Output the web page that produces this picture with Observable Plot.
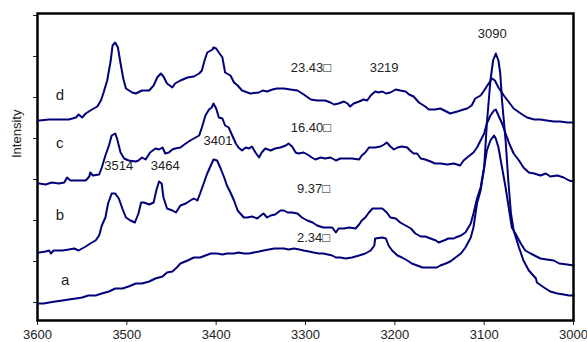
<!DOCTYPE html>
<html>
<head>
<meta charset="utf-8">
<script src="https://cdn.jsdelivr.net/npm/d3@7"></script>
<script src="https://cdn.jsdelivr.net/npm/@observablehq/plot@0.6"></script>
<style>
html, body { margin: 0; padding: 0; background: #fff; }
svg { display: block; }
</style>
</head>
<body>
<div id="chart"></div>
<script>
// Wavenumber (cm-1) and intensity (arbitrary units) for each spectrum
const wnA = [3598,3593,3587,3580,3572,3565,3557,3550,3543,3535,3528,3520,3513,3505,3498,3490,3483,3475,3468,3460,3455,3449,3444,
  3440,3432,3425,3418,3412,3406,3399,3393,3388,3380,3375,3369,3363,3358,3352,3347,3341,3335,3330,3324,3319,3313,3307,3302,3296,3291,3285,3280,
  3270,3266,3261,3255,3248,3240,3233,3227,3223,3222,3214,3210,3207,3203,3197,3192,3186,3181,3175,3169,3164,3158,3153,3149,3143,3138,
  3132,3126,3121,3115,3112,3108,3104,3100,3097,3093,3090,3087,3084,3082,3080,3076,3073,3070,3067,3061,3056,3050,3042,
  3041,3033,3026,3018,3011,3005,3000];
const intA = [-1,-1,0,1,2,3,4,5,7,7,9,11,14,14,16,19,19,21,24,26,30,31,35,
  39,42,45,45,47,49,49,48,49,49,50,49,49,50,51,52,53,54,54,54,53,54,53,52,51,50,49,49,
  47,45,45,44,45,47,49,52,57,64,65,64,57,52,47,45,42,39,37,35,35,35,35,37,39,41,
  45,49,55,65,75,99,112,135,179,222,242,249,242,229,202,162,122,89,72,55,42,32,24,
  20,15,11,9,8,7,7];

const wnB = [3598,3591,3587,3585,3582,3572,3565,3559,3554,3550,3546,3541,3535,3531,3528,3524,3521,3517,3513,3509,3505,3501,3496,3491,3487,3484,3481,3475,3470,3467,3464,3461,3459,3455,3449,3445,
  3440,3434,3429,3425,3421,3418,3414,3410,3406,3403,3399,3395,3391,3388,3384,3380,3376,3373,3369,3365,3360,3354,3350,3347,3343,3339,3334,3328,3324,3320,3315,3309,3304,3298,3292,3287,3280,
  3278,3270,3266,3263,3257,3251,3244,3240,3237,3233,3229,3225,3220,3214,3209,3205,3199,3194,3188,3182,3177,3171,3166,3160,3154,3151,3145,3140,3134,
  3132,3126,3121,3115,3112,3108,3104,3100,3097,3093,3089,3087,3084,3080,3076,3072,3069,3065,3059,3054,3048,
  3037,3030,3022,3016,3007,3000];
const intB = [50,51,52,49,52,52,53,54,52,54,56,59,62,67,77,85,99,109,109,104,94,85,82,80,89,100,100,98,100,112,121,119,105,94,92,90,
  97,99,102,104,102,109,119,129,137,143,142,134,125,117,110,102,92,89,85,85,86,84,87,89,85,87,88,92,92,90,90,89,85,82,80,77,75,
  75,75,70,74,74,75,74,78,82,85,90,94,94,94,90,85,84,80,77,74,69,66,66,64,62,60,62,64,64,
  65,67,70,79,89,104,115,135,152,162,167,164,155,135,115,92,75,69,59,52,49,
  44,43,42,39,38,37];

const wnC = [3598,3591,3584,3576,3570,3567,3563,3554,3546,3542,3541,3538,3531,3528,3524,3520,3517,3513,3511,3507,3503,3498,3490,3487,3483,3479,3474,3468,3464,3460,3457,3453,3449,3446,
  3440,3434,3429,3423,3419,3416,3412,3408,3405,3403,3400,3397,3393,3390,3386,3382,3378,3375,3371,3367,3363,3360,3356,3352,3349,3345,3339,3334,3328,3322,3319,3315,3311,3308,3302,3296,3293,3289,3283,
  3278,3272,3266,3261,3255,3248,3240,3237,3233,3229,3222,3216,3212,3209,3205,3201,3197,3192,3186,3183,3179,3175,3171,3166,3160,3155,
  3149,3141,3134,3127,3123,3119,3112,3108,3104,3100,3097,3093,3089,3087,3084,3080,3076,3072,3067,3061,3056,3050,3044,3037,3031,3026,3018,3011,3005,3000];
const intC = [119,118,120,119,120,125,122,122,122,126,130,127,128,135,147,157,167,169,164,150,144,142,141,142,145,143,150,154,153,155,149,150,153,154,
  155,159,162,165,167,175,187,193,195,199,194,185,184,177,175,167,159,155,152,155,154,156,150,145,150,154,152,154,155,157,159,156,150,149,150,147,145,143,145,
  144,145,142,144,144,144,143,147,150,155,155,156,158,160,156,153,155,156,155,152,149,149,144,143,141,139,
  139,138,139,137,142,145,150,155,162,169,179,187,192,193,187,179,169,159,149,142,135,130,129,127,129,126,127,125,122,121];

const wnD = [3598,3587,3576,3565,3557,3554,3550,3546,3539,3533,3529,3526,3522,3518,3516,3513,3510,3507,3504,3501,3494,3490,3483,3475,3470,3466,3462,3459,3455,3449,3446,
  3440,3432,3425,3419,3416,3413,3410,3404,3403,3400,3397,3393,3390,3384,3380,3376,3371,3362,3352,3348,3343,3337,3332,3324,3317,3309,3302,3294,3287,3281,
  3278,3272,3268,3263,3257,3253,3250,3246,3240,3235,3231,3227,3222,3218,3214,3210,3205,3199,3194,3188,3184,3179,3173,3166,3162,3155,
  3149,3138,3130,3123,3119,3114,3110,3104,3100,3095,3091,3088,3084,3078,3072,3067,3059,3052,3044,3037,3030,3022,3015,3007,3000];
const intD = [182,183,183,183,185,188,185,189,193,196,202,210,222,242,257,260,255,239,224,214,210,209,212,212,217,225,229,226,219,215,219,
  222,225,226,229,232,242,250,253,255,254,250,245,230,227,220,217,212,209,210,212,211,213,214,214,213,212,208,203,202,202,
  202,200,198,199,201,199,196,199,201,203,202,207,211,210,211,209,210,213,212,211,208,206,200,196,193,193,
  194,189,191,193,194,197,204,207,212,219,224,222,215,207,200,194,189,185,183,183,182,181,181,180,180];

const seriesNames = ["a", "b", "c", "d"];
const wnAll = [wnA, wnB, wnC, wnD];
const intAll = [intA, intB, intC, intD];

const xTicks = [3600, 3500, 3400, 3300, 3200, 3100, 3000];
const yTicks = [0, 41, 82, 123, 164, 205, 246, 287];

// Curve letters
const curveLabels = ["d", "c", "b", "a"];
const curveLabelX = [3575, 3575, 3575, 3569];
const curveLabelY = [207, 159, 87, 22];

// Peak / pressure annotations
const noteTexts = ["3514", "3464", "3401", "23.43\u25A1", "16.40\u25A1", "9.37\u25A1", "2.34\u25A1", "3219", "3090"];
const noteX = [3509, 3457, 3398, 3294, 3294, 3291, 3291, 3212, 3091];
const noteY = [137, 137, 162, 235, 175, 114, 65, 235, 269];

const spectra = [];
seriesNames.forEach((s, i) => {
  wnAll[i].forEach((w, j) => spectra.push({series: s, wn: w, intensity: intAll[i][j]}));
});
const curveLabelData = curveLabels.map((t, i) => ({t, x: curveLabelX[i], y: curveLabelY[i]}));
const noteData = noteTexts.map((t, i) => ({t, x: noteX[i], y: noteY[i]}));

const font = "'Liberation Sans', Arial, Helvetica, sans-serif";

const chart = Plot.plot({
  width: 587,
  height: 342,
  marginLeft: 37,
  marginRight: 14,
  marginTop: 13,
  marginBottom: 22,
  style: {fontFamily: font, fontSize: "13px", color: "#222", background: "#fff"},
  x: {domain: [3600, 3000]},
  y: {domain: [-18, 289]},
  marks: [
    Plot.axisY(yTicks, {tickSize: 4, tickFormat: () => "", label: null, stroke: "#222"}),
    Plot.axisX(xTicks, {tickSize: 5, tickPadding: 4, label: null, fontSize: 13, tickFormat: d => String(d), stroke: "#222"}),
    Plot.line(spectra, {x: "wn", y: "intensity", z: "series", stroke: "#00007a", strokeWidth: 2, strokeLinejoin: "round"}),
    Plot.text(curveLabelData, {x: "x", y: "y", text: "t", fontSize: 15, fill: "#222"}),
    Plot.text(noteData, {x: "x", y: "y", text: "t", fontSize: 13, fill: "#222"}),
    Plot.text(["Intensity"], {frameAnchor: "left", rotate: -90, dx: -21, dy: -9, fontSize: 13, fill: "#222"}),
    Plot.frame({stroke: "#000", strokeWidth: 2.5})
  ]
});
document.getElementById("chart").appendChild(chart);
</script>
</body>
</html>
